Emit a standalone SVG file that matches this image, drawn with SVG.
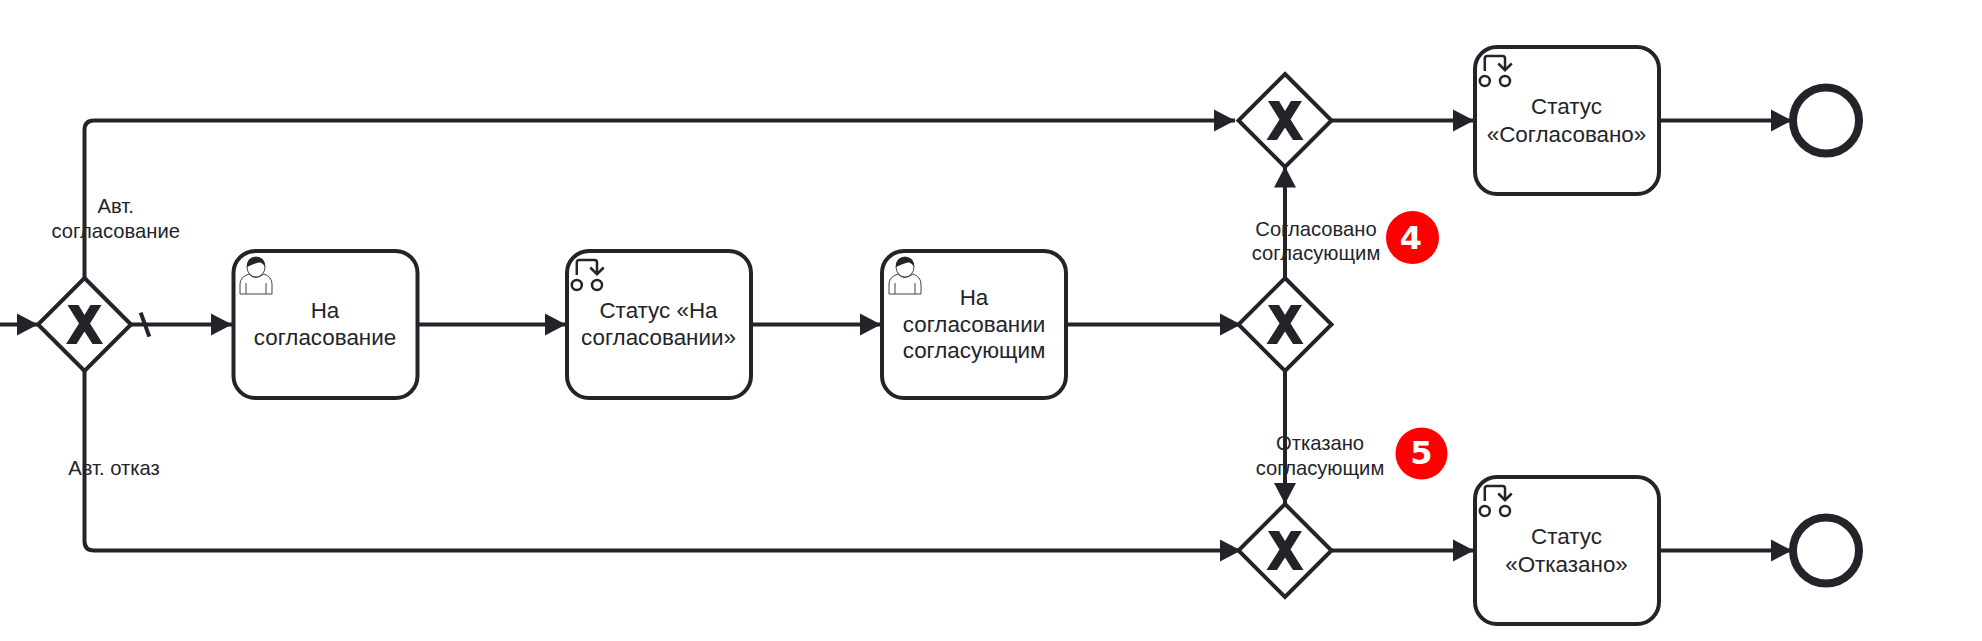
<svg xmlns="http://www.w3.org/2000/svg" width="1982" height="641" viewBox="0 0 1982 641">
<style>
text{font-family:"Liberation Sans",Arial,sans-serif;fill:#22242a;text-anchor:middle}
.t{font-size:22.400px}
.l{font-size:20.200px}
.n{font-family:"DejaVu Sans",sans-serif;font-weight:bold;font-size:32px;fill:#fff}
.c{fill:none;stroke:#22242a;stroke-width:4}
.task{fill:#fff;stroke:#22242a;stroke-width:4}
.gw{fill:#fff;stroke:#22242a;stroke-width:4;stroke-linejoin:miter}
.end{fill:#fff;stroke:#22242a;stroke-width:8}
.ic{fill:none;stroke:#22242a;stroke-width:2.500}
.ui{fill:#fff;stroke:#444;stroke-width:1}
</style>
<defs>
<marker id="arrow" markerUnits="userSpaceOnUse" markerWidth="22" markerHeight="24" refX="21" refY="12" orient="auto"><path d="M0 1L21 12L0 23Z" fill="#22242a"/></marker>
<g id="gateway"><path class="gw" d="M0-46.500L46.500 0L0 46.500L-46.500 0Z"/><path fill="#22242a" d="M-17-19.500H-6L0-9.500L6-19.500H17L5.500-1L18.500 19.500H8L0 7L-8 19.500H-18.500L-5.500-1Z"/></g>
<g id="svc"><path class="ic" d="M10.800 25V12.500Q10.800 10 13.300 10H28.500Q31 10 31 12.500V24"/><path class="ic" d="M24.300 17.500L31 24.200L37.700 17.500"/><circle class="ic" cx="10.800" cy="35" r="5"/><circle class="ic" cx="31" cy="35" r="5"/></g>
<g id="usr"><path class="ui" d="M8 44V34Q8 27 17 24Q23 31 32 24Q40 27 40 34V44Z"/><path class="ui" d="M14 33V44M34 33V44"/><ellipse class="ui" cx="24" cy="17" rx="9" ry="10"/><path fill="#22242a" d="M15 17Q14.500 7 24 7Q33.500 7 33 17Q30.500 12 26.500 12.500Q20.500 14 15 17Z"/></g>
</defs>
<g id="connectors">
<path class="c" marker-end="url(#arrow)" d="M0 324.500H38"/>
<path class="c" marker-end="url(#arrow)" d="M131 324.500H232"/>
<path class="c" d="M140.700 312.700L149.300 336.700"/>
<path class="c" marker-end="url(#arrow)" d="M418 324.500H566"/>
<path class="c" marker-end="url(#arrow)" d="M751.500 324.500H881"/>
<path class="c" marker-end="url(#arrow)" d="M1067 324.500H1241"/>
<path class="c" marker-end="url(#arrow)" d="M84.500 278V130Q84.500 120.500 94 120.500H1235"/>
<path class="c" marker-end="url(#arrow)" d="M84.500 371V541Q84.500 550.500 94 550.500H1241"/>
<path class="c" marker-end="url(#arrow)" d="M1285 278V166.500"/>
<path class="c" marker-end="url(#arrow)" d="M1285 371V504"/>
<path class="c" marker-end="url(#arrow)" d="M1331.500 120.500H1474"/>
<path class="c" marker-end="url(#arrow)" d="M1331.500 550.500H1474"/>
<path class="c" marker-end="url(#arrow)" d="M1660 120.500H1792"/>
<path class="c" marker-end="url(#arrow)" d="M1660 550.500H1792"/>
</g>
<g id="gw1"><use href="#gateway" x="84.500" y="324.500"/></g>
<g id="task1"><rect class="task" x="233.500" y="251" width="184" height="147" rx="22"/><use href="#usr" x="232" y="250"/><text class="t" x="325" y="318">На</text><text class="t" x="325" y="344.500">согласование</text></g>
<g id="task2"><rect class="task" x="567" y="251" width="184" height="147" rx="22"/><use href="#svc" x="566" y="250"/><text class="t" x="658.500" y="318">Статус «На</text><text class="t" x="658.500" y="345">согласовании»</text></g>
<g id="task3"><rect class="task" x="882" y="251" width="184" height="147" rx="22"/><use href="#usr" x="881" y="250"/><text class="t" x="974" y="305">На</text><text class="t" x="974" y="331.500">согласовании</text><text class="t" x="974" y="358">согласующим</text></g>
<g id="gw2"><use href="#gateway" x="1285" y="324.500"/></g>
<g id="gw3"><use href="#gateway" x="1285" y="120.500"/></g>
<g id="gw4"><use href="#gateway" x="1285" y="550.500"/></g>
<g id="task4"><rect class="task" x="1475" y="47" width="184" height="147" rx="22"/><use href="#svc" x="1474" y="46"/><text class="t" x="1566.500" y="114">Статус</text><text class="t" x="1566.500" y="141.500">«Согласовано»</text></g>
<g id="task5"><rect class="task" x="1475" y="477" width="184" height="147" rx="22"/><use href="#svc" x="1474" y="476"/><text class="t" x="1566.500" y="544">Статус</text><text class="t" x="1566.500" y="571.500">«Отказано»</text></g>
<g id="end1"><circle class="end" cx="1826" cy="120.500" r="33"/></g>
<g id="end2"><circle class="end" cx="1826" cy="550.500" r="33"/></g>
<g id="labels">
<text class="l" x="115.700" y="213">Авт.</text><text class="l" x="115.700" y="238">согласование</text>
<text class="l" x="114" y="475">Авт. отказ</text>
<text class="l" x="1316" y="235.500">Согласовано</text><text class="l" x="1316" y="260">согласующим</text>
<text class="l" x="1320" y="450">Отказано</text><text class="l" x="1320" y="475">согласующим</text>
</g>
<g id="badge4"><circle cx="1412.500" cy="237.500" r="26.500" fill="#f00"/><text class="n" x="1411" y="248.500">4</text></g>
<g id="badge5"><circle cx="1421.500" cy="453.500" r="26" fill="#f00"/><text class="n" x="1421.500" y="464">5</text></g>
</svg>
